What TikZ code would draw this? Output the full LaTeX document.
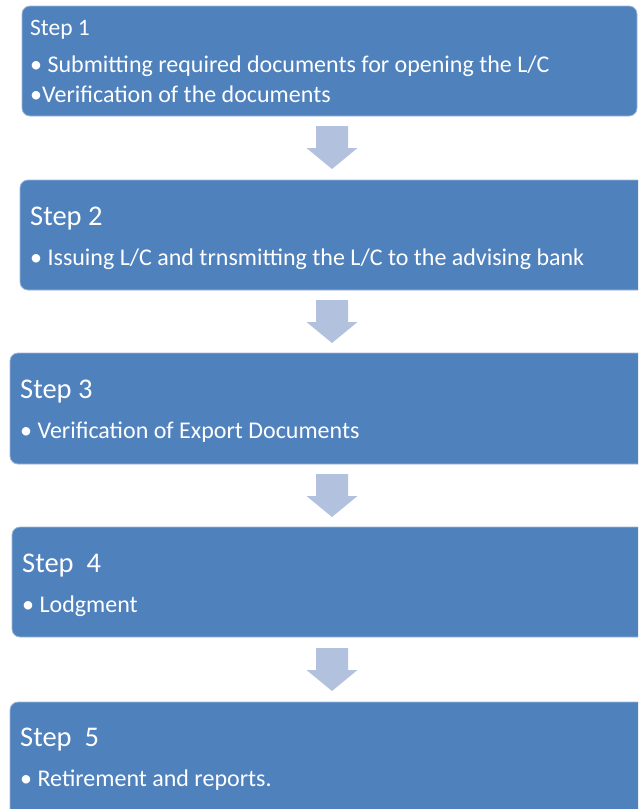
\documentclass[tikz,border=0pt]{standalone}
\usepackage{fontspec}
\setmainfont{Carlito}
\definecolor{boxblue}{HTML}{4F81BD}
\definecolor{boxedge}{HTML}{9DB5D8}
\definecolor{arrowblue}{HTML}{B2C2DE}
\begin{document}
\begin{tikzpicture}[x=1pt,y=-1pt,
  stepbox/.style={fill=boxblue,draw=boxedge,line width=0.8pt,rounded corners=8pt},
  titletext/.style={anchor=base west,inner sep=0pt,text=white,font=\fontsize{28.5}{32}\selectfont},
  smalltitle/.style={anchor=base west,inner sep=0pt,text=white,font=\fontsize{23.5}{27}\selectfont},
  bodytext/.style={anchor=base west,inner sep=0pt,text=white,font=\fontsize{24}{28}\selectfont},
  downarrow/.pic={\fill[arrowblue] (-16,0) -- (16,0) -- (16,22) -- (25.5,22) -- (0,43)
    -- (-25.5,22) -- (-16,22) -- cycle;}
]
\useasboundingbox (0,0) rectangle (638,809);
\clip (0,0) rectangle (638,809);
% boxes
\path[stepbox] (22,6) rectangle (637,116);
\path[stepbox] (20,180) rectangle (660,290);
\path[stepbox] (10,353) rectangle (660,464);
\path[stepbox] (12,527) rectangle (660,637);
\path[stepbox] (10,702) rectangle (660,830);
% arrows
\coordinate (a1) at (332,126);
\coordinate (a2) at (332,300);
\coordinate (a3) at (332,474);
\coordinate (a4) at (332,648);
\pic at (a1) {downarrow};
\pic at (a2) {downarrow};
\pic at (a3) {downarrow};
\pic at (a4) {downarrow};
% texts
\node[smalltitle] (t1) at (30,35) {Step 1};
\node[bodytext] (t1a) at (30,72) {• Submitting required documents for opening the L/C};
\node[bodytext] (t1b) at (30,102) {•Verification of the documents};
\node[titletext] (t2) at (30,225) {Step 2};
\node[bodytext] (t2a) at (30,265) {• Issuing L/C and trnsmitting the L/C to the advising bank};
\node[titletext] (t3) at (20,398) {Step 3};
\node[bodytext] (t3a) at (20,438) {• Verification of Export Documents};
\node[titletext] (t4) at (22,572) {Step\ \ 4};
\node[bodytext] (t4a) at (22,612) {• Lodgment};
\node[titletext] (t5) at (20,746) {Step\ \ 5};
\node[bodytext] (t5a) at (20,786) {• Retirement and reports.};
\end{tikzpicture}
\end{document}
